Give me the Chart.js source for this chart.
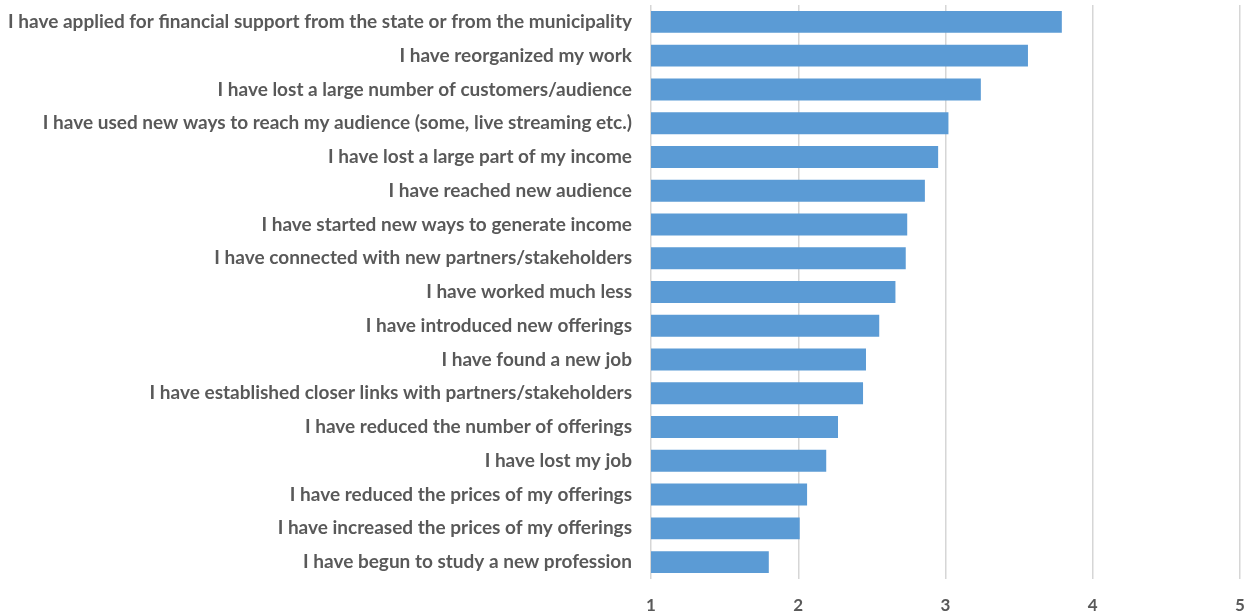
<!DOCTYPE html>
<html>
<head>
<meta charset="utf-8">
<script src="https://cdn.jsdelivr.net/npm/chart.js@4.4.1/dist/chart.umd.min.js"></script>
<style>
  html, body { margin: 0; padding: 0; background: #fff; }
  #wrap { width: 1248px; height: 613px; }
</style>
</head>
<body>
<div id="wrap"><canvas id="grafico_impacto"></canvas></div>
<script>
// Respostas (média numa escala de 1 a 5)
const categorias = [
  'I have applied for financial support from the state or from the municipality',
  'I have reorganized my work',
  'I have lost a large number of customers/audience',
  'I have used new ways to reach my audience (some, live streaming etc.)',
  'I have lost a large part of my income',
  'I have reached new audience',
  'I have started new ways to generate income',
  'I have connected with new partners/stakeholders',
  'I have worked much less',
  'I have introduced new offerings',
  'I have found a new job',
  'I have established closer links with partners/stakeholders',
  'I have reduced the number of offerings',
  'I have lost my job',
  'I have reduced the prices of my offerings',
  'I have increased the prices of my offerings',
  'I have begun to study a new profession'
];
const medias = [3.79, 3.56, 3.24, 3.02, 2.95, 2.86, 2.74, 2.73, 2.66, 2.55, 2.46, 2.44, 2.27, 2.19, 2.06, 2.01, 1.80];
const ticksX = [1, 2, 3, 4, 5];

const fonteY = { family: 'Lato, "Open Sans", sans-serif', size: 19, weight: 'bold' };
const fonteX = { family: 'Lato, "Open Sans", sans-serif', size: 17, weight: 'bold' };
const cinza = '#595959';

// zera o recuo automático que o Chart.js reserva para os rótulos
function semRecuo(scale) {
  scale.paddingTop = 0;
  scale.paddingBottom = 0;
  scale.paddingLeft = 0;
  scale.paddingRight = 0;
}

const ctx = document.getElementById('grafico_impacto');

new Chart(ctx, {
  type: 'bar',
  data: {
    labels: categorias,
    datasets: [{
      data: medias,
      backgroundColor: '#5B9BD5',
      borderWidth: 0,
      categoryPercentage: 0.65,
      barPercentage: 1
    }]
  },
  options: {
    indexAxis: 'y',
    responsive: true,
    maintainAspectRatio: false,
    animation: false,
    layout: {
      padding: { top: 5, right: 8, left: 0, bottom: 0 }
    },
    scales: {
      x: {
        min: 1,
        max: 5,
        afterBuildTicks: function (scale) {
          scale.ticks = ticksX.map(v => ({ value: v }));
        },
        afterFit: function (scale) {
          scale.height = 34;
          semRecuo(scale);
        },
        grid: {
          color: '#d6d6d6',
          lineWidth: 1.5,
          drawTicks: false
        },
        border: { display: false },
        ticks: {
          padding: 16,
          maxRotation: 0,
          color: cinza,
          font: fonteX
        }
      },
      y: {
        afterFit: function (scale) {
          scale.width = 651; // categorias ocupam até o início das barras
          semRecuo(scale);
        },
        grid: { display: false, drawTicks: false },
        border: { display: false },
        ticks: {
          padding: 19,
          color: cinza,
          font: fonteY,
          autoSkip: false
        }
      }
    },
    plugins: {
      legend: { display: false },
      title: { display: false },
      tooltip: { enabled: false }
    }
  }
});
</script>
</body>
</html>
